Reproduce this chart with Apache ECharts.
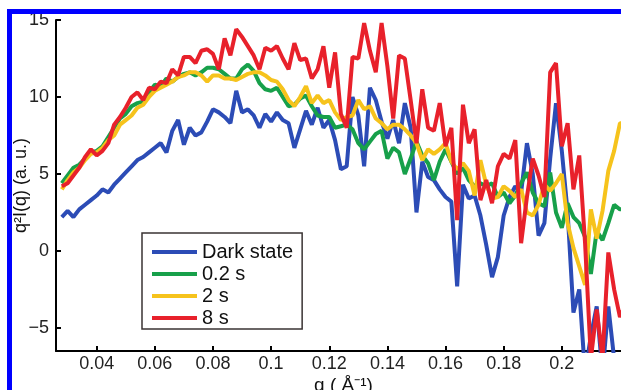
<!DOCTYPE html>
<html>
<head>
<meta charset="utf-8">
<script src="https://cdn.jsdelivr.net/npm/echarts@6/dist/echarts.min.js"></script>
<style>
  html, body { margin: 0; padding: 0; background: #fff; }
  #scattering { width: 621px; height: 390px; }
</style>
</head>
<body>
<div id="scattering"></div>
<script>
// q values (1/A) and q^2 I(q) curves
var qs = [
    0.028, 0.030, 0.032, 0.034, 0.036, 0.038, 0.040, 0.042, 0.044, 0.046,
    0.048, 0.050, 0.052, 0.054, 0.056, 0.058, 0.060, 0.062, 0.064, 0.066,
    0.068, 0.070, 0.072, 0.074, 0.076, 0.078, 0.080, 0.082, 0.084, 0.086,
    0.088, 0.090, 0.092, 0.094, 0.096, 0.098, 0.100, 0.102, 0.104, 0.106,
    0.108, 0.110, 0.112, 0.114, 0.116, 0.118, 0.120, 0.122, 0.124, 0.126,
    0.128, 0.130, 0.132, 0.134, 0.136, 0.138, 0.140, 0.142, 0.144, 0.146,
    0.148, 0.150, 0.152, 0.154, 0.156, 0.158, 0.160, 0.162, 0.164, 0.166,
    0.168, 0.170, 0.172, 0.174, 0.176, 0.178, 0.180, 0.182, 0.184, 0.186,
    0.188, 0.190, 0.192, 0.194, 0.196, 0.198, 0.200, 0.202, 0.204, 0.206,
    0.208, 0.210, 0.212, 0.214, 0.216, 0.218, 0.220, 0.222
];
var darkState = [
    2.2, 2.6, 2.2, 2.7, 3.0, 3.3, 3.6, 4.0, 3.8, 4.3,
    4.7, 5.1, 5.5, 5.9, 6.1, 6.4, 6.7, 7.0, 6.4, 7.8,
    8.5, 6.9, 8.0, 7.5, 7.7, 8.4, 9.2, 9.0, 8.7, 8.3,
    10.4, 9.0, 9.2, 8.8, 8.0, 8.9, 8.4, 9.0, 8.5, 8.3,
    6.7, 7.9, 9.1, 8.2, 9.3, 8.0, 8.5, 7.2, 5.3, 5.5,
    10.0, 8.8, 5.5, 10.6, 9.8, 8.4, 7.3, 8.5, 7.0, 9.6,
    8.0, 2.5, 5.8, 4.8, 4.6, 4.0, 3.5, 3.2, -2.3, 4.3,
    3.4, 3.6, 2.3, 0.4, -1.7, -0.4, 2.3, 3.5, 4.2, 3.8,
    7.0, 5.0, 1.0, 1.8, 6.0, 9.6, 6.5, 2.5, -4.0, -2.5,
    -8.0, -5.5, -3.6, -8.0, -3.6, -7.0, -8.0, -6.3
];
var s02 = [
    4.4, 4.9, 5.4, 5.6, 6.0, 6.4, 6.5, 6.8, 7.4, 8.0,
    8.6, 8.9, 9.4, 9.6, 9.7, 10.3, 10.8, 10.7, 11.2, 11.0,
    11.3, 11.5, 11.6, 11.4, 11.6, 11.9, 11.9, 11.8, 11.5, 11.2,
    11.2, 11.8, 12.1, 11.7, 10.9, 10.5, 10.4, 10.6, 10.0, 9.4,
    9.5, 9.9, 10.1, 9.4, 8.8, 8.7, 8.7, 8.0, 8.1, 8.2,
    7.9, 7.0, 6.6, 7.1, 7.6, 7.8, 6.0, 6.7, 6.4, 5.0,
    6.0, 7.1, 6.2, 5.7, 4.6, 5.8, 6.6, 5.8, 5.0, 5.4,
    4.6, 4.2, 4.4, 4.2, 4.4, 3.5, 3.8, 3.1, 3.6, 4.4,
    5.1, 3.8, 3.1, 2.9, 5.1, 2.5, 1.5, 3.1, 2.2, 1.8,
    0.9, -1.5, 1.3, 0.7, 1.8, 3.0, 2.7, 2.7
];
var s2 = [
    4.0, 4.6, 5.1, 5.4, 5.9, 6.3, 6.4, 6.7, 7.2, 7.5,
    8.2, 8.5, 8.8, 9.3, 9.5, 10.0, 10.4, 10.6, 10.8, 11.0,
    11.3, 11.4, 11.6, 11.6, 11.4, 11.0, 11.4, 11.4, 11.2, 11.2,
    11.1, 11.3, 11.5, 11.6, 11.6, 11.4, 11.1, 11.0, 10.5, 9.8,
    9.4, 10.0, 10.7, 9.6, 10.1, 9.6, 9.8, 9.0, 8.5, 8.7,
    8.8, 9.8, 9.2, 9.4, 8.6, 8.3, 7.9, 8.2, 8.2, 7.9,
    7.5, 7.0, 5.9, 6.6, 6.3, 6.6, 7.0, 5.8, 5.3, 5.7,
    5.2, 3.6, 5.9, 4.3, 3.4, 3.5, 4.2, 3.9, 3.5, 4.0,
    2.5, 2.3, 3.0, 4.3, 3.9, 4.4, 5.0, 1.8, 0.2, -1.0,
    -2.2, 2.7, 0.8, 2.6, 5.2, 6.5, 8.3, 8.3
];
var s8 = [
    4.2, 4.4, 4.9, 5.4, 6.1, 6.6, 6.2, 6.5, 7.0, 8.2,
    8.7, 9.3, 10.0, 10.3, 9.8, 10.6, 10.5, 11.0, 10.9, 11.8,
    11.4, 12.6, 12.6, 12.2, 13.0, 13.1, 12.8, 11.8, 13.8, 12.7,
    14.4, 13.9, 13.3, 12.7, 11.8, 13.2, 13.0, 13.3, 12.5, 11.8,
    13.5, 12.4, 12.5, 11.2, 11.8, 13.3, 10.6, 12.9, 8.9, 8.0,
    12.6, 12.5, 14.8, 13.0, 11.6, 14.8, 12.0, 8.6, 12.7, 12.5,
    9.8, 7.0, 10.5, 8.0, 7.8, 9.6, 6.8, 8.0, 2.0, 9.5,
    7.0, 7.9, 3.3, 4.6, 3.1, 5.5, 6.3, 6.0, 7.2, 0.5,
    3.5, 6.0, 4.9, 3.5, 11.6, 12.2, 6.8, 8.3, 4.0, 6.2,
    0.5, -7.0, -3.8, -7.0, -0.1, -2.5, -4.3, -3.4
];
var xTicks = [0.04, 0.06, 0.08, 0.1, 0.12, 0.14, 0.16, 0.18, 0.2];
var yTicks = [-5, 0, 5, 10, 15];
var seriesNames = ['Dark state', '0.2 s', '2 s', '8 s'];
var seriesColors = ['#2c4cb6', '#17a04a', '#f6c31c', '#e8212b'];
var seriesValues = [darkState, s02, s2, s8];

var font = 'Liberation Sans, Arial, Helvetica, sans-serif';

function pairs(vals) {
    return qs.map(function (q, i) { return [q, vals[i]]; });
}

var chart = echarts.init(document.getElementById('scattering'));
var option = {
    animation: false,
    backgroundColor: '#fff',
    grid: {
        left: 56,
        right: -10,
        top: 20,
        bottom: 39,
        containLabel: false,
        outerBoundsMode: 'none'
    },
    legend: {
        orient: 'vertical',
        left: 142,
        top: 233,
        padding: [9, 9, 1, 10],
        itemWidth: 45,
        itemHeight: 4,
        itemGap: 2,
        borderColor: '#3a3333',
        borderWidth: 1.5,
        backgroundColor: '#fff',
        icon: 'rect',
        textStyle: {
            fontSize: 20,
            lineHeight: 20,
            color: '#111',
            fontFamily: font
        },
        data: seriesNames
    },
    xAxis: {
        type: 'value',
        min: 0.026,
        max: 0.2238,
        name: 'q ( Å⁻¹)',
        nameLocation: 'middle',
        nameGap: 25,
        nameMoveOverlap: false,
        nameTextStyle: { fontSize: 19, color: '#111', fontFamily: font },
        axisLine: { onZero: false, lineStyle: { color: '#000', width: 2 } },
        axisTick: { inside: true, length: 5, lineStyle: { color: '#000', width: 2 }, customValues: xTicks },
        axisLabel: {
            fontSize: 18,
            color: '#222',
            fontFamily: font,
            margin: 4,
            customValues: xTicks,
            formatter: function (v) { return String(v); }
        },
        splitLine: { show: false }
    },
    yAxis: {
        type: 'value',
        min: -6.5,
        max: 15,
        name: 'q²I(q) (a. u.)',
        nameLocation: 'middle',
        nameGap: 26,
        nameMoveOverlap: false,
        nameTextStyle: { fontSize: 18, color: '#111', fontFamily: font },
        axisLine: { show: true, onZero: false, lineStyle: { color: '#000', width: 2 } },
        axisTick: { show: true, inside: true, length: 5, lineStyle: { color: '#000', width: 2 }, customValues: yTicks },
        axisLabel: {
            fontSize: 18,
            color: '#222',
            fontFamily: font,
            margin: 7,
            customValues: yTicks,
            formatter: function (v) { return v < 0 ? '\u2212' + Math.abs(v) : String(v); }
        },
        splitLine: { show: false }
    },
    series: seriesNames.map(function (name, i) {
        return {
            name: name,
            type: 'line',
            data: pairs(seriesValues[i]),
            showSymbol: false,
            symbol: 'none',
            color: seriesColors[i],
            lineStyle: { width: 4, color: seriesColors[i] },
            clip: true
        };
    }),
    graphic: [
        { type: 'rect', z: 100, shape: { x: 7, y: 9, width: 614, height: 5 }, style: { fill: '#0000ff' } },
        { type: 'rect', z: 100, shape: { x: 7, y: 9, width: 5, height: 381 }, style: { fill: '#0000ff' } },
        { type: 'rect', z: 99, shape: { x: 0, y: 0, width: 621, height: 9 }, style: { fill: '#fff' } }
    ]
};
chart.setOption(option);
window.addEventListener('resize', function () {
    chart.resize();
});
</script>
</body>
</html>
